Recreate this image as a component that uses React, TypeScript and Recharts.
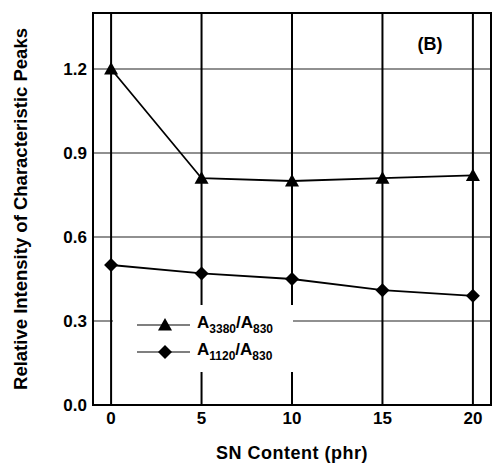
import React from "react";
import {
  LineChart,
  Line,
  XAxis,
  YAxis,
  CartesianGrid,
  Legend,
  ReferenceArea,
  Customized,
} from "recharts";

const snContent = [0, 5, 10, 15, 20];
const ratio3380 = [1.2, 0.81, 0.8, 0.81, 0.82];
const ratio1120 = [0.5, 0.47, 0.45, 0.41, 0.39];
const xTicks = [0, 5, 10, 15, 20];
const yTicks = [0, 0.3, 0.6, 0.9, 1.2];
const seriesNames = [
  ["A", "3380", "/A", "830"],
  ["A", "1120", "/A", "830"],
];

const FONT = '"Liberation Sans", Arial, Helvetica, sans-serif';

const data = snContent.map((x, i) => ({
  x,
  a3380: ratio3380[i],
  a1120: ratio1120[i],
}));

const triangle = (cx: number, cy: number, s = 7) =>
  `${cx},${cy - s} ${cx - s},${cy + s * 0.8} ${cx + s},${cy + s * 0.8}`;
const diamond = (cx: number, cy: number, s = 7) =>
  `${cx},${cy - s} ${cx + s},${cy} ${cx},${cy + s} ${cx - s},${cy}`;

const TriangleDot = (props: any) => {
  const { cx, cy, index } = props;
  return <polygon key={index} points={triangle(cx, cy)} fill="#000" />;
};

const DiamondDot = (props: any) => {
  const { cx, cy, index } = props;
  return <polygon key={index} points={diamond(cx, cy)} fill="#000" />;
};

const subStyle: React.CSSProperties = {
  fontSize: 12,
  verticalAlign: "baseline",
  position: "relative",
  top: 5,
};

const renderLegend = () => (
  <div
    style={{
      width: 180,
      height: 67,
      background: "#fff",
      fontFamily: FONT,
      fontWeight: "bold",
      color: "#000",
      paddingTop: 6,
      boxSizing: "border-box",
    }}
  >
    {seriesNames.map((parts, i) => (
      <div
        key={i}
        style={{ display: "flex", alignItems: "center", height: 27 }}
      >
        <svg width={78} height={20} style={{ flex: "none" }}>
          <line x1={24} y1={10} x2={77} y2={10} stroke="#000" strokeWidth={1.2} />
          <polygon
            points={i === 0 ? triangle(52, 10) : diamond(52, 10)}
            fill="#000"
          />
        </svg>
        <span style={{ marginLeft: 6, fontSize: 17, whiteSpace: "nowrap", marginTop: -4 }}>
          {parts[0]}
          <span style={subStyle}>{parts[1]}</span>
          {parts[2]}
          <span style={subStyle}>{parts[3]}</span>
        </span>
      </div>
    ))}
  </div>
);

export default function App() {
  return (
    <div style={{ position: "absolute", left: 0, top: 0, background: "#fff" }}>
      <LineChart
        width={493}
        height={464}
        data={data}
        margin={{ top: 13, right: 2, left: 0, bottom: 0 }}
      >
        <CartesianGrid
          vertical={false}
          stroke="#222"
          strokeWidth={1.2}
          horizontalValues={[0.3, 0.6, 0.9, 1.2]}
        />
        <CartesianGrid
          horizontal={false}
          stroke="#000"
          strokeWidth={2}
          verticalValues={xTicks}
        />
        <XAxis
          dataKey="x"
          type="number"
          domain={[-1, 21]}
          ticks={xTicks}
          allowDataOverflow
          axisLine={false}
          tickLine={false}
          height={59}
          tickSize={6}
          tickMargin={1}
          tick={{ fill: "#000", fontSize: 17, fontWeight: "bold", fontFamily: FONT }}
          label={{
            value: "SN Content (phr)",
            position: "center",
            dy: 18,
            fill: "#000",
            fontSize: 18,
            fontWeight: "bold",
            fontFamily: FONT,
            letterSpacing: 0.5,
          }}
        />
        <YAxis
          type="number"
          domain={[0, 1.4]}
          ticks={yTicks}
          allowDataOverflow
          axisLine={false}
          tickLine={false}
          width={93}
          tickSize={4}
          tickMargin={2}
          tickFormatter={(v: number) => v.toFixed(1)}
          tick={{ fill: "#000", fontSize: 17, fontWeight: "bold", fontFamily: FONT }}
          label={{
            value: "Relative Intensity of Characteristic Peaks",
            angle: -90,
            position: "center",
            dx: -26,
            fill: "#000",
            fontSize: 18.5,
            fontWeight: "bold",
            fontFamily: FONT,
          }}
        />
        <ReferenceArea
          x1={-1}
          x2={21}
          y1={0}
          y2={1.4}
          fill="none"
          stroke="#000"
          strokeWidth={2}
          ifOverflow="visible"
        />
        <Legend
          layout="horizontal"
          verticalAlign="middle"
          align="center"
          content={renderLegend}
          wrapperStyle={{ left: 113, top: 305, width: 180, height: 67 }}
        />
        <Line
          dataKey="a3380"
          stroke="#000"
          strokeWidth={1.8}
          dot={<TriangleDot />}
          activeDot={false}
          isAnimationActive={false}
        />
        <Line
          dataKey="a1120"
          stroke="#000"
          strokeWidth={1.8}
          dot={<DiamondDot />}
          activeDot={false}
          isAnimationActive={false}
        />
        <Customized
          component={() => (
            <text
              x={430}
              y={50}
              textAnchor="middle"
              fontSize={18}
              fontWeight="bold"
              fontFamily={FONT}
              fill="#000"
            >
              (B)
            </text>
          )}
        />
      </LineChart>
    </div>
  );
}
